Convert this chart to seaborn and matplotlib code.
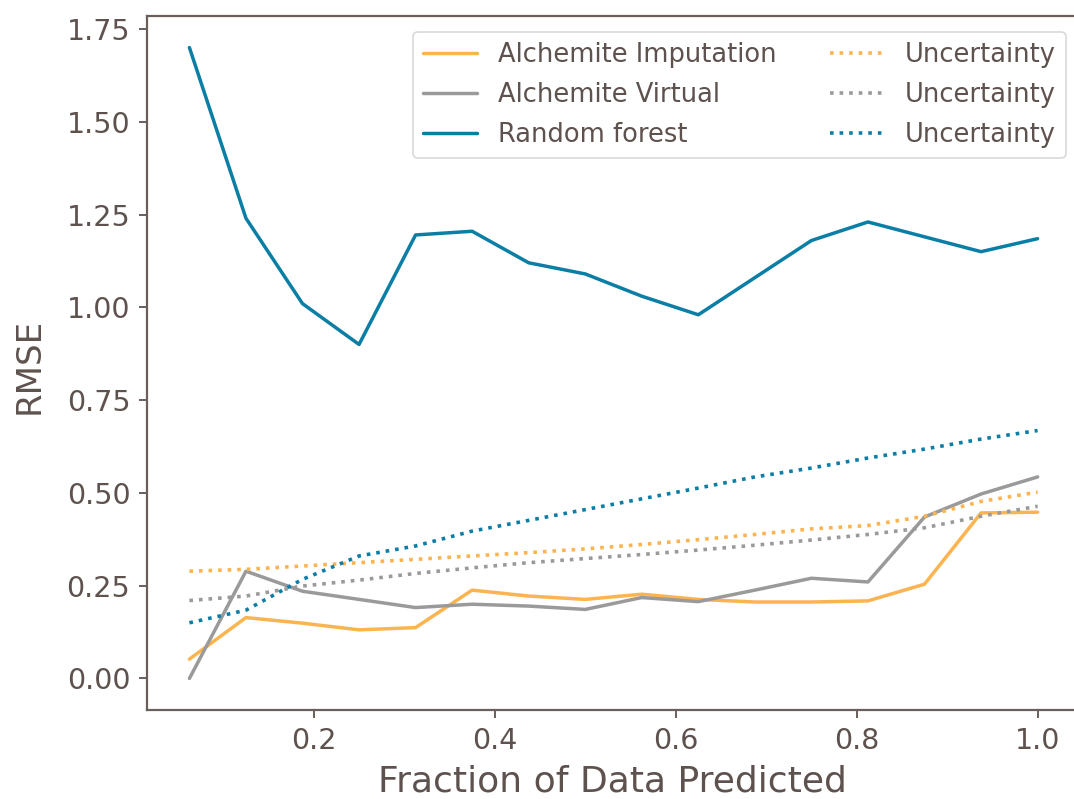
import numpy as np
import pandas as pd
import matplotlib
matplotlib.use("Agg")
import matplotlib.pyplot as plt
import seaborn as sns

# ---- data ----
fraction = [0.0625, 0.125, 0.1875, 0.25, 0.3125, 0.375, 0.4375, 0.5,
            0.5625, 0.625, 0.6875, 0.75, 0.8125, 0.875, 0.9375, 1.0]
imputation_rmse = [0.052, 0.164, 0.149, 0.131, 0.137, 0.238, 0.222, 0.213,
                   0.227, 0.213, 0.206, 0.206, 0.209, 0.254, 0.446, 0.448]
virtual_rmse = [0.0, 0.289, 0.235, 0.213, 0.191, 0.200, 0.195, 0.186,
                0.218, 0.207, 0.238, 0.270, 0.260, 0.435, 0.497, 0.543]
rf_rmse = [1.70, 1.24, 1.01, 0.90, 1.195, 1.205, 1.12, 1.09,
           1.03, 0.98, 1.08, 1.18, 1.23, 1.19, 1.15, 1.185]
imputation_unc = [0.289, 0.294, 0.303, 0.312, 0.321, 0.330, 0.339, 0.349,
                  0.361, 0.374, 0.388, 0.403, 0.412, 0.437, 0.477, 0.502]
virtual_unc = [0.210, 0.222, 0.249, 0.265, 0.283, 0.298, 0.312, 0.323,
               0.334, 0.346, 0.359, 0.373, 0.388, 0.406, 0.437, 0.464]
rf_unc = [0.150, 0.184, 0.267, 0.330, 0.357, 0.397, 0.426, 0.455,
          0.484, 0.513, 0.543, 0.567, 0.594, 0.618, 0.645, 0.668]

series_names = ["Alchemite Imputation", "Alchemite Virtual", "Random forest"]
unc_label = "Uncertainty"
x_label = "Fraction of Data Predicted"
y_label = "RMSE"

# ---- style ----
sns.set_style("ticks")
plt.rcParams['font.family'] = ['DejaVu Sans']
text_color = "#5e524e"
plt.rcParams.update({
    "text.color": text_color,
    "axes.labelcolor": text_color,
    "xtick.color": text_color,
    "ytick.color": text_color,
    "axes.edgecolor": "#6b5f5b",
})

colors = ["#FBB450", "#9a9a9a", "#0b7ea6"]

fig = plt.figure(figsize=(10.74, 7.99), dpi=100)
ax_left, ax_right, ax_top, ax_bottom = 147, 1080, 16, 710
ax = fig.add_axes([ax_left / 1074, 1 - ax_bottom / 799,
                   (ax_right - ax_left) / 1074, (ax_bottom - ax_top) / 799])
ax_w = ax_right - ax_left
ax_h = ax_bottom - ax_top

solid_vals = [imputation_rmse, virtual_rmse, rf_rmse]
unc_vals = [imputation_unc, virtual_unc, rf_unc]

for name, vals, c in zip(series_names, solid_vals, colors):
    sns.lineplot(x=fraction, y=vals, ax=ax, color=c, lw=2.5, label=name)
for vals, c in zip(unc_vals, colors):
    sns.lineplot(x=fraction, y=vals, ax=ax, color=c, lw=2.6, ls=":", label=unc_label)

ax.set_xlabel(x_label, fontsize=26)
ax.xaxis.label.set_va("baseline")
ax.xaxis.set_label_coords((612 - ax_left) / ax_w, -(791 - ax_bottom) / ax_h)
ax.set_ylabel(y_label, fontsize=24.5)
ax.yaxis.label.set_va("center")
ax.yaxis.set_label_coords(-(ax_left - 29) / ax_w, (ax_bottom - 366) / ax_h)

ax.set_xticks([0.2, 0.4, 0.6, 0.8, 1.0])
ax.set_xticklabels(["0.2", "0.4", "0.6", "0.8", "1.0"])
ax.set_yticks([0, 0.25, 0.5, 0.75, 1.0, 1.25, 1.5, 1.75])
ax.set_yticklabels(["0.00", "0.25", "0.50", "0.75", "1.00", "1.25", "1.50", "1.75"])
ax.tick_params(axis="both", labelsize=20.5, length=6, width=1.3, pad=6)
for s in ax.spines.values():
    s.set_linewidth(1.6)

handles, labels = ax.get_legend_handles_labels()
leg = ax.legend(handles, labels, ncol=2, loc="upper left",
                bbox_to_anchor=((413 - ax_left) / ax_w, 1 - (32 - ax_top) / ax_h),
                fontsize=18.5, frameon=True, fancybox=True, handlelength=2.1,
                columnspacing=2.1, handletextpad=0.8, labelspacing=0.53,
                borderpad=0.4, borderaxespad=0)
leg.get_frame().set_edgecolor("#d0d0d0")
leg.get_frame().set_linewidth(1.2)
for t in leg.get_texts():
    t.set_color(text_color)

fig.savefig("out.png", dpi=100)
